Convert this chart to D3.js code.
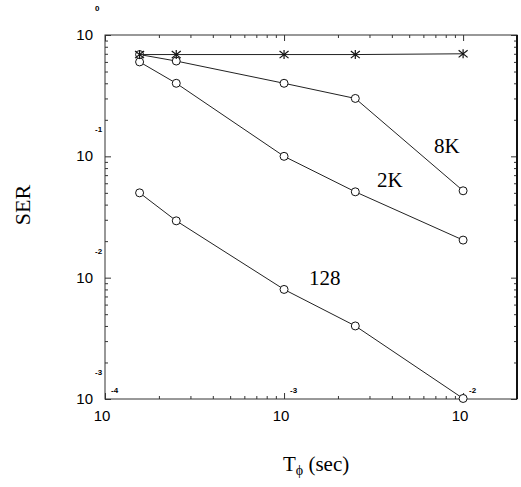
<!DOCTYPE html>
<html><head><meta charset="utf-8">
<script src="https://cdn.jsdelivr.net/npm/d3@7"></script>
<style>body{margin:0;background:#fff}svg{display:block}</style>
</head><body>
<svg id="c" width="521" height="487"></svg>
<script>
// ---- data ----
const tphi = [1.56e-4, 2.5e-4, 1e-3, 2.5e-3, 1e-2];
const serStar = [0.69, 0.69, 0.69, 0.69, 0.70];
const ser8K = [0.69, 0.61, 0.40, 0.30, 0.052];
const ser2K = [0.60, 0.40, 0.10, 0.051, 0.0204];
const ser128 = [0.050, 0.0294, 0.0080, 0.0040, 0.00101];
const xMajor = [1e-4, 1e-3, 1e-2];
const xMajorExp = ["-4", "-3", "-2"];
const yMajor = [1, 1e-1, 1e-2, 1e-3];
const yMajorExp = ["0", "-1", "-2", "-3"];
const curveLabels = ["8K", "2K", "128"];

const svg = d3.select("#c");
const L = 105, R = 517, T = 35, B = 399;
const x = d3.scaleLog().domain([1e-4, 2e-2]).range([L, R]);
const y = d3.scaleLog().domain([1e-3, 1]).range([B, T]);

const isMajor = v => Math.abs(Math.log10(v) - Math.round(Math.log10(v))) < 1e-9;
const xMinor = x.ticks().filter(v => !isMajor(v));
const yMinor = y.ticks().filter(v => !isMajor(v));

function ax(gen, tx, ty, ticks, size) {
  const g = svg.append("g").attr("transform", `translate(${tx},${ty})`)
    .call(gen.tickValues(ticks).tickSize(size).tickFormat(""));
  g.select(".domain").remove();
  g.selectAll("line").attr("stroke", "#333").attr("stroke-width", 1);
}
// inward ticks on all sides
ax(d3.axisBottom(x), 0, B, xMajor, -6);
ax(d3.axisBottom(x), 0, B, xMinor, -3);
ax(d3.axisTop(x), 0, T, xMajor, -6);
ax(d3.axisTop(x), 0, T, xMinor, -3);
ax(d3.axisLeft(y), L, 0, yMajor, -6);
ax(d3.axisLeft(y), L, 0, yMinor, -3);
ax(d3.axisRight(y), R, 0, yMajor, -6);
ax(d3.axisRight(y), R, 0, yMinor, -3);

// frame
svg.append("rect").attr("x", L).attr("y", T).attr("width", R - L).attr("height", B - T)
  .attr("fill", "none").attr("stroke", "#333").attr("stroke-width", 1);
svg.append("line").attr("x1", R).attr("x2", R).attr("y1", T).attr("y2", B)
  .attr("stroke", "#111").attr("stroke-width", 2);

// tick labels
const sans = "'Liberation Sans', Arial, sans-serif";
xMajor.forEach((v, i) => {
  svg.append("text").attr("x", x(v) - 3).attr("y", 421).attr("text-anchor", "middle")
    .attr("font-family", sans).attr("font-size", 15).text("10");
  svg.append("text").attr("x", x(v) + 6).attr("y", 393)
    .attr("font-family", sans).attr("font-size", 8).attr("font-weight", "bold").text(xMajorExp[i]);
});
yMajor.forEach((v, i) => {
  svg.append("text").attr("x", 93).attr("y", y(v) + 5).attr("text-anchor", "end")
    .attr("font-family", sans).attr("font-size", 15).text("10");
  svg.append("text").attr("x", 95).attr("y", y(v) - 24)
    .attr("font-family", sans).attr("font-size", 8).attr("font-weight", "bold").text(yMajorExp[i]);
});

// series
const line = d3.line().x(d => x(d[0])).y(d => y(d[1]));
function series(vals, marker) {
  const pts = tphi.map((t, i) => [t, vals[i]]);
  svg.append("path").attr("d", line(pts)).attr("fill", "none")
    .attr("stroke", "#222").attr("stroke-width", 1);
  if (marker === "circle") {
    svg.append("g").selectAll("circle").data(pts).join("circle")
      .attr("cx", d => x(d[0])).attr("cy", d => y(d[1])).attr("r", 4)
      .attr("fill", "#fff").attr("stroke", "#111").attr("stroke-width", 1);
  } else {
    const s = 4.5;
    const g = svg.append("g").selectAll("g").data(pts).join("g")
      .attr("transform", d => `translate(${x(d[0])},${y(d[1])})`);
    [[0, -s, 0, s], [-s, -s * 0.8, s, s * 0.8], [-s, s * 0.8, s, -s * 0.8]].forEach(l => {
      g.append("line").attr("x1", l[0]).attr("y1", l[1]).attr("x2", l[2]).attr("y2", l[3])
        .attr("stroke", "#111").attr("stroke-width", 1.2);
    });
  }
}
series(ser128, "circle");
series(ser2K, "circle");
series(ser8K, "circle");
series(serStar, "star");

// curve labels
const serif = "'Liberation Serif', 'Times New Roman', serif";
const labPos = [[434, 153], [377, 187], [309, 285]];
curveLabels.forEach((t, i) => {
  svg.append("text").attr("x", labPos[i][0]).attr("y", labPos[i][1])
    .attr("font-family", serif).attr("font-size", 21).text(t);
});

// axis titles
svg.append("text").attr("transform", "translate(30,205) rotate(-90)").attr("text-anchor", "middle")
  .attr("font-family", serif).attr("font-size", 22).text("SER");
const xt = svg.append("text").attr("x", 283).attr("y", 471)
  .attr("font-family", serif).attr("font-size", 21);
xt.append("tspan").text("T");
xt.append("tspan").attr("font-size", 14).attr("dy", 4).text("\u03d5");
xt.append("tspan").attr("dy", -4).text(" (sec)");
</script>
</body></html>
